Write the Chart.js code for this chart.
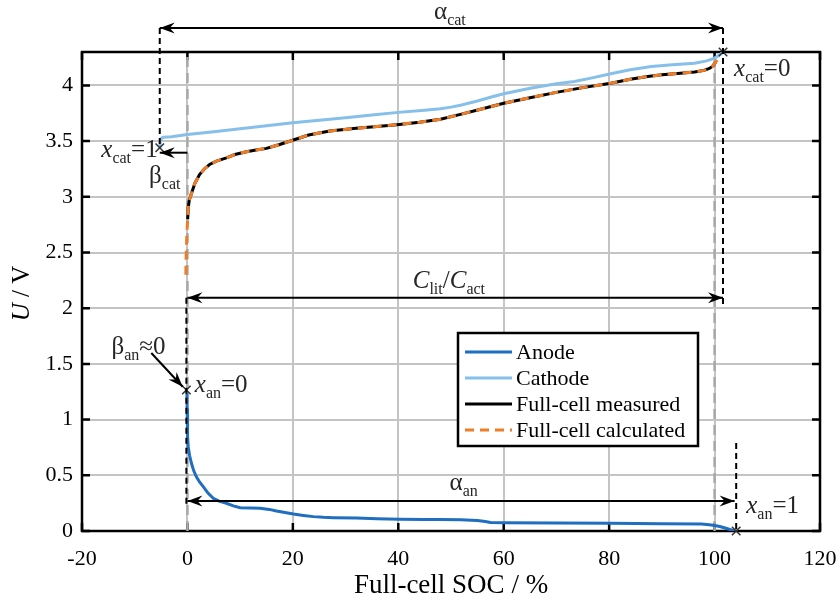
<!DOCTYPE html>
<html>
<head>
<meta charset="utf-8">
<script src="https://cdn.jsdelivr.net/npm/chart.js@4.4.1/dist/chart.umd.min.js"></script>
<style>
  html, body { margin: 0; padding: 0; background: #fff; }
  #wrap { width: 840px; height: 606px; }
</style>
</head>
<body>
<div id="wrap"><canvas id="chart" width="840" height="606"></canvas></div>
<script>
// ── DATA ──────────────────────────────────────────────────────────────────────
const xTicks = [-20, 0, 20, 40, 60, 80, 100, 120];
const yTicks = [0, 0.5, 1, 1.5, 2, 2.5, 3, 3.5, 4];

const anodeSoc = [-0.1, -0.05, 0, 0.05, 0.15, 0.4, 0.76, 1.2, 1.7, 2.3, 3, 3.9, 4.9, 6, 7.4, 8.7, 10, 12, 13.8, 15.5, 16.9, 18.5, 20.1, 22, 23.9, 25.8, 27.7, 32, 36, 40.2, 45, 48, 51.8, 55, 56.5, 57.5, 60, 70, 80.3, 90, 97.5, 99, 100, 101, 102.3, 103.8];
const anodeU   = [1.236, 1.1, 0.95, 0.85, 0.757, 0.68, 0.608, 0.54, 0.487, 0.44, 0.398, 0.34, 0.293, 0.268, 0.249, 0.225, 0.209, 0.206, 0.204, 0.194, 0.18, 0.166, 0.153, 0.14, 0.129, 0.123, 0.12, 0.116, 0.11, 0.105, 0.104, 0.104, 0.1, 0.094, 0.085, 0.077, 0.075, 0.072, 0.069, 0.066, 0.063, 0.057, 0.05, 0.04, 0.022, 0];

const cathodeSoc = [-5.25, -5.15, -4.9, -4.6, -3, 0, 5, 10, 15, 20, 25, 30, 35, 40, 45, 48, 50, 52, 55, 58, 60, 65, 70, 73.4, 77, 80.3, 84, 88, 92, 96.2, 98.5, 100, 101, 101.6];
const cathodeU   = [3.44, 3.5, 3.525, 3.535, 3.54, 3.56, 3.585, 3.61, 3.637, 3.665, 3.688, 3.71, 3.735, 3.758, 3.778, 3.79, 3.805, 3.825, 3.86, 3.9, 3.925, 3.975, 4.015, 4.035, 4.07, 4.105, 4.14, 4.17, 4.185, 4.2, 4.22, 4.245, 4.275, 4.3];

const measSoc = [0.05, 0.15, 0.35, 0.76, 1.4, 2.3, 3.2, 4.2, 5.5, 7.4, 9, 11.2, 13, 15, 17.5, 20.1, 23, 27, 32, 36, 40.2, 44, 48, 51.8, 56, 60, 65, 70.2, 75, 80.3, 84, 87.3, 90, 93, 96.2, 98, 98.9, 99.6, 100.2];
const measU   = [2.8, 2.9, 2.97, 3.03, 3.12, 3.2, 3.25, 3.29, 3.32, 3.35, 3.38, 3.405, 3.42, 3.435, 3.47, 3.51, 3.555, 3.59, 3.615, 3.632, 3.65, 3.67, 3.696, 3.74, 3.79, 3.84, 3.89, 3.94, 3.98, 4.02, 4.055, 4.08, 4.095, 4.108, 4.12, 4.135, 4.15, 4.17, 4.21];

const calcSoc = [-0.3, -0.25, -0.15, -0.05, 0.05, 0.15, 0.35, 0.76, 1.4, 2.3, 3.2, 4.2, 5.5, 7.4, 9, 11.2, 13, 15, 17.5, 20.1, 23, 27, 32, 36, 40.2, 44, 48, 51.8, 56, 60, 65, 70.2, 75, 80.3, 84, 87.3, 90, 93, 96.2, 98, 98.9, 99.6, 100.2, 100.8, 101.3];
const calcU   = [2.3, 2.45, 2.6, 2.72, 2.8, 2.9, 2.97, 3.03, 3.12, 3.2, 3.25, 3.29, 3.32, 3.35, 3.38, 3.405, 3.42, 3.435, 3.47, 3.51, 3.555, 3.59, 3.615, 3.632, 3.65, 3.67, 3.696, 3.74, 3.79, 3.84, 3.89, 3.94, 3.98, 4.02, 4.055, 4.08, 4.095, 4.108, 4.12, 4.135, 4.15, 4.17, 4.21, 4.24, 4.26];

// end points x_cat=1, x_cat=0, x_an=0, x_an=1
const markSoc = [-5.25, 101.6, -0.2, 104.1];
const markU   = [3.44, 4.3, 1.266, 0];

// SOC = 0 % and 100 % reference lines
const refSoc = [0, 100];
const refU   = [0, 4.3];

const legendKeys = ['Anode', 'Cathode', 'Full-cell measured', 'Full-cell calculated'];

// ── ANNOTATIONS (data coordinates) ───────────────────────────────────────────
const spans = [
  { from: -5.25, to: 101.6, u: 4.515, both: true },   // alpha_cat
  { from: 0,     to: 101.6, u: 2.094, both: true },   // C_lit / C_act
  { from: 0,     to: 103.8, u: 0.269, both: true },   // alpha_an
  { from: 0,     to: -5.25, u: 3.396, both: false }   // beta_cat
];
const guides = [
  { soc: -5.25, u1: 4.515, u2: 3.44 },
  { soc: 101.6, u1: 4.515, u2: 2.02 },
  { soc: -0.2,  u1: 2.094, u2: 0.22 },
  { soc: 104.1, u1: 0.79,  u2: 0 }
];
const notes = [
  { soc: 49.8,  u: 4.596, align: 'center', parts: [['α', 'n'], ['cat', 's']] },
  { soc: 49.6,  u: 2.181, align: 'center', parts: [['C', 'i'], ['lit', 's'], ['/', 'n'], ['C', 'i'], ['act', 's']] },
  { soc: 52.4,  u: 0.368, align: 'center', parts: [['α', 'n'], ['an', 's']] },
  { soc: -4.3,  u: 3.124, align: 'center', parts: [['β', 'n'], ['cat', 's']] },
  { soc: -5.65, u: 3.357, align: 'right',  parts: [['x', 'i'], ['cat', 's'], ['=1', 'n']] },
  { soc: 103.7, u: 4.084, align: 'left',   parts: [['x', 'i'], ['cat', 's'], ['=0', 'n']] },
  { soc: -14.4, u: 1.589, align: 'left',   parts: [['β', 'n'], ['an', 's'], ['≈0', 'n']] },
  { soc: 1.4,   u: 1.25,  align: 'left',   parts: [['x', 'i'], ['an', 's'], ['=0', 'n']] },
  { soc: 106,   u: 0.16,  align: 'left',   parts: [['x', 'i'], ['an', 's'], ['=1', 'n']] }
];
const betaAnArrow = { soc1: -6.85, u1: 1.598, soc2: -0.9, u2: 1.295 };

// ── HELPERS ───────────────────────────────────────────────────────────────────
const FONT = '"Liberation Serif", "Times New Roman", serif';
const pairs = (xs, ys) => xs.map((x, i) => ({ x, y: ys[i] }));

function fontOf(kind) {
  if (kind === 's') return `16px ${FONT}`;
  if (kind === 'i') return `italic 25px ${FONT}`;
  return `25px ${FONT}`;
}

function richText(ctx, parts, x, y, align) {
  let w = 0;
  parts.forEach(([t, k]) => { ctx.font = fontOf(k); w += ctx.measureText(t).width; });
  let cx = align === 'center' ? x - w / 2 : align === 'right' ? x - w : x;
  ctx.textAlign = 'left';
  ctx.textBaseline = 'alphabetic';
  parts.forEach(([t, k]) => {
    ctx.font = fontOf(k);
    ctx.fillText(t, cx, k === 's' ? y + 6 : y);
    cx += ctx.measureText(t).width;
  });
}

function head(ctx, x, y, ang) {
  ctx.save();
  ctx.translate(x, y);
  ctx.rotate(ang);
  ctx.beginPath();
  ctx.moveTo(0, 0);
  ctx.lineTo(-15, -5.5);
  ctx.lineTo(-10, 0);
  ctx.lineTo(-15, 5.5);
  ctx.closePath();
  ctx.fill();
  ctx.restore();
}

// ── PLUGIN: box, inward ticks, annotations, legend ────────────────────────────
const overlay = {
  id: 'overlay',
  beforeDatasetsDraw(chart) {
    const { ctx, chartArea: ca, scales: { x, y } } = chart;
    ctx.save();
    ctx.strokeStyle = '#000';
    ctx.lineWidth = 2.5;
    ctx.beginPath();
    xTicks.forEach(v => {
      const px = x.getPixelForValue(v);
      ctx.moveTo(px, ca.bottom); ctx.lineTo(px, ca.bottom - 8);
      ctx.moveTo(px, ca.top);    ctx.lineTo(px, ca.top + 8);
    });
    yTicks.forEach(v => {
      const py = y.getPixelForValue(v);
      ctx.moveTo(ca.left, py);  ctx.lineTo(ca.left + 8, py);
      ctx.moveTo(ca.right, py); ctx.lineTo(ca.right - 8, py);
    });
    ctx.stroke();
    ctx.strokeRect(ca.left, ca.top, ca.right - ca.left, ca.bottom - ca.top);
    ctx.restore();
  },
  afterDatasetsDraw(chart) {
    const { ctx, chartArea: ca, scales: { x, y } } = chart;
    ctx.save();
    ctx.strokeStyle = '#000';
    ctx.fillStyle = '#000';

    // dashed guide lines
    ctx.lineWidth = 2;
    ctx.setLineDash([6, 4]);
    guides.forEach(g => {
      const px = x.getPixelForValue(g.soc);
      ctx.beginPath();
      ctx.moveTo(px, y.getPixelForValue(g.u1));
      ctx.lineTo(px, y.getPixelForValue(g.u2));
      ctx.stroke();
    });
    ctx.setLineDash([]);

    // span arrows
    ctx.lineWidth = 2;
    spans.forEach(s => {
      const x1 = x.getPixelForValue(s.from), x2 = x.getPixelForValue(s.to);
      const py = y.getPixelForValue(s.u);
      ctx.beginPath(); ctx.moveTo(x1, py); ctx.lineTo(x2, py); ctx.stroke();
      const ang = x2 > x1 ? 0 : Math.PI;
      head(ctx, x2, py, ang);
      if (s.both) head(ctx, x1, py, ang + Math.PI);
    });

    // beta_an arrow
    const ax1 = x.getPixelForValue(betaAnArrow.soc1), ay1 = y.getPixelForValue(betaAnArrow.u1);
    const ax2 = x.getPixelForValue(betaAnArrow.soc2), ay2 = y.getPixelForValue(betaAnArrow.u2);
    ctx.beginPath(); ctx.moveTo(ax1, ay1); ctx.lineTo(ax2, ay2); ctx.stroke();
    head(ctx, ax2, ay2, Math.atan2(ay2 - ay1, ax2 - ax1));

    // text labels
    ctx.fillStyle = '#262626';
    notes.forEach(n => richText(ctx, n.parts, x.getPixelForValue(n.soc), y.getPixelForValue(n.u), n.align));

    // y axis title
    ctx.save();
    ctx.translate(21, (ca.top + ca.bottom) / 2 + 2);
    ctx.rotate(-Math.PI / 2);
    ctx.fillStyle = '#000';
    richText(ctx, [['U', 'i'], [' / V', 'n']], 0, 8, 'center');
    ctx.restore();

    // legend
    const lx = ca.left + 376, ly = ca.top + 281, lw = 240, lh = 113;
    ctx.fillStyle = '#fff';
    ctx.fillRect(lx, ly, lw, lh);
    ctx.lineWidth = 2.5;
    ctx.strokeStyle = '#000';
    ctx.strokeRect(lx, ly, lw, lh);
    ctx.font = `22px ${FONT}`;
    ctx.textBaseline = 'middle';
    ctx.textAlign = 'left';
    legendKeys.forEach((key, i) => {
      const ds = chart.data.datasets.find(d => d.label === key);
      const ry = ly + 19 + i * 26;
      ctx.strokeStyle = ds.borderColor;
      ctx.lineWidth = ds.borderWidth;
      ctx.setLineDash(ds.borderDash || []);
      ctx.beginPath(); ctx.moveTo(lx + 7, ry); ctx.lineTo(lx + 54, ry); ctx.stroke();
      ctx.setLineDash([]);
      ctx.fillStyle = '#000';
      ctx.fillText(key, lx + 58, ry + 1);
    });
    ctx.restore();
  }
};

// ── CHART ─────────────────────────────────────────────────────────────────────
Chart.defaults.font.family = FONT;
Chart.defaults.color = '#000';

const line = (label, xs, ys, color, extra) => Object.assign({
  label, data: pairs(xs, ys), borderColor: color, backgroundColor: color,
  borderWidth: 3, pointRadius: 0, showLine: true, tension: 0
}, extra || {});

new Chart(document.getElementById('chart'), {
  type: 'scatter',
  data: {
    datasets: [
      { label: 'marks', data: pairs(markSoc, markU), pointStyle: 'crossRot', pointRadius: 6,
        borderColor: '#333', borderWidth: 1.5, showLine: false, clip: false },
      line('Full-cell calculated', calcSoc, calcU, '#ee7d2a', { borderDash: [9, 6] }),
      line('Full-cell measured', measSoc, measU, '#000'),
      line('Cathode', cathodeSoc, cathodeU, '#86bfe9'),
      line('Anode', anodeSoc, anodeU, '#1f6ebf'),
      line('ref0', [refSoc[0], refSoc[0]], refU, '#a8a8a8', { borderWidth: 2.5, borderDash: [10, 6] }),
      line('ref100', [refSoc[1], refSoc[1]], refU, '#a8a8a8', { borderWidth: 2.5, borderDash: [10, 6] })
    ]
  },
  options: {
    responsive: false,
    animation: false,
    devicePixelRatio: 1,
    layout: { padding: { top: 52, right: 20, left: 0, bottom: 0 } },
    plugins: { legend: { display: false }, tooltip: { enabled: false } },
    scales: {
      x: {
        type: 'linear', min: -20, max: 120,
        afterBuildTicks: s => { s.ticks = xTicks.map(v => ({ value: v })); },
        afterFit: s => { s.height = 75; s.paddingLeft = 0; s.paddingRight = 0; },
        grid: { color: '#c4c4c4', lineWidth: 2, drawTicks: false },
        border: { display: false },
        ticks: { font: { size: 22 }, padding: 15, maxRotation: 0, callback: v => String(v) },
        title: { display: true, text: 'Full-cell SOC / %', font: { size: 27 }, padding: { top: 0, bottom: 4 } }
      },
      y: {
        type: 'linear', min: 0, max: 4.3,
        afterBuildTicks: s => { s.ticks = yTicks.map(v => ({ value: v })); },
        afterFit: s => { s.width = 82; },
        grid: { color: '#c4c4c4', lineWidth: 2, drawTicks: false },
        border: { display: false },
        ticks: { font: { size: 22 }, padding: 9, callback: v => String(v) }
      }
    }
  },
  plugins: [overlay]
});
</script>
</body>
</html>
